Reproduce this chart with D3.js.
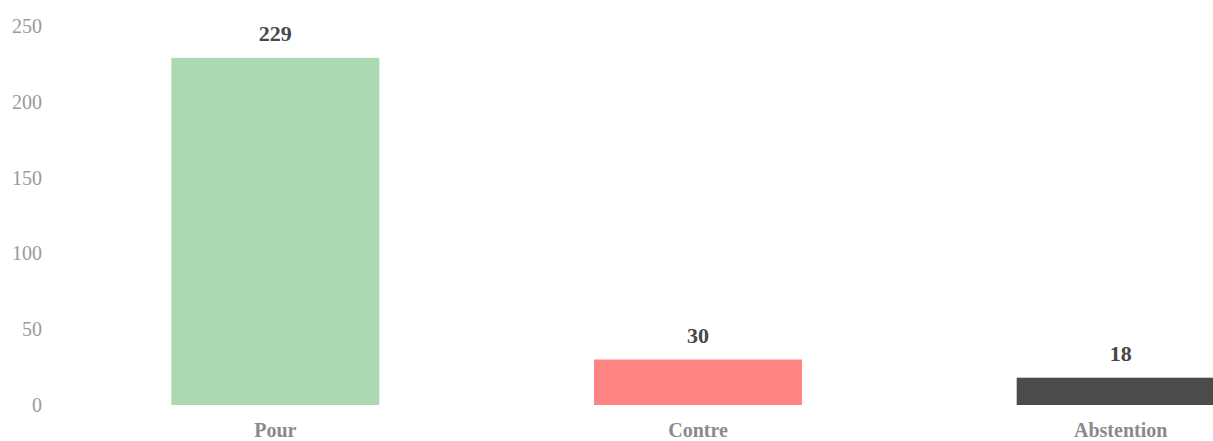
<!DOCTYPE html>
<html>
<head>
<meta charset="utf-8">
<script src="https://cdn.jsdelivr.net/npm/d3@7"></script>
<style>
  body { margin: 0; background: #fff; overflow: hidden; }
  svg { display: block; }
  svg text { font-family: 'Liberation Serif', 'DejaVu Serif', serif; }
  .axis text { fill: #9a9a9a; font-size: 20px; }
  .cat text { fill: #8a8a8a; font-size: 20px; font-weight: bold; }
  .value { fill: #474747; font-size: 22px; font-weight: bold; }
</style>
</head>
<body>
<svg id="chart"></svg>
<script>
const categories = ['Pour', 'Contre', 'Abstention']
const votes = [229, 30, 18]
const barColors = ['#acd9b1', '#ff8585', '#4b4b4b']
const yTicks = [0, 50, 100, 150, 200, 250]

const width = 1213
const height = 441

const svg = d3.select('#chart')
    .attr('width', width)
    .attr('height', height)

// the plot runs past the right edge, like the original
const x = d3.scaleBand()
    .domain(categories)
    .range([64, 1332])
    .paddingInner(0.508)
    .paddingOuter(0.254)

const y = d3.scaleLinear()
    .domain([0, 250])
    .range([405, 26])

const yAxis = d3.axisLeft(y).tickValues(yTicks).tickSize(0).tickPadding(0)
svg.append('g')
    .attr('class', 'axis')
    .attr('transform', 'translate(42,0)')
    .call(yAxis)
    .call(g => g.select('.domain').remove())
    .attr('font-family', null)

const xAxis = d3.axisBottom(x).tickSize(0).tickPadding(0)
svg.append('g')
    .attr('class', 'cat')
    .attr('transform', 'translate(0,423)')
    .call(xAxis)
    .call(g => g.select('.domain').remove())
    .attr('font-family', null)

svg.append('g').selectAll('rect')
    .data(votes)
    .join('rect')
    .attr('x', (d, i) => x(categories[i]))
    .attr('width', x.bandwidth())
    .attr('y', d => y(d))
    .attr('height', d => y(0) - y(d))
    .attr('fill', (d, i) => barColors[i])

svg.append('g').selectAll('text')
    .data(votes)
    .join('text')
    .attr('class', 'value')
    .attr('x', (d, i) => x(categories[i]) + x.bandwidth() / 2)
    .attr('y', d => y(d) - 17)
    .attr('text-anchor', 'middle')
    .text(d => d)
</script>
</body>
</html>
